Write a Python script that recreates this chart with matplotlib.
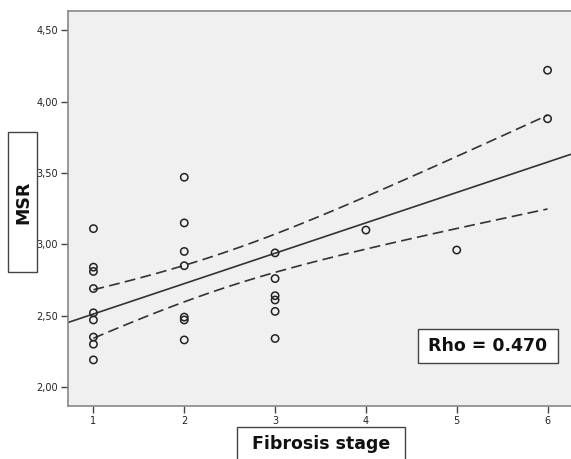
import numpy as np
import matplotlib
matplotlib.use("Agg")
import matplotlib.pyplot as plt
from matplotlib.patches import Rectangle

# Fibrosis stage vs MSR
stage = [1, 1, 1, 1, 1, 1, 1, 1, 1,
         2, 2, 2, 2, 2, 2, 2,
         3, 3, 3, 3, 3, 3,
         4, 5, 6, 6]
msr = [3.11, 2.84, 2.81, 2.69, 2.52, 2.47, 2.35, 2.30, 2.19,
       3.47, 3.15, 2.95, 2.85, 2.49, 2.47, 2.33,
       2.94, 2.76, 2.64, 2.61, 2.53, 2.34,
       3.10, 2.96, 4.22, 3.88]
y_ticks = [2.0, 2.5, 3.0, 3.5, 4.0, 4.5]
x_ticks = [1, 2, 3, 4, 5, 6]
rho_text = "Rho = 0.470"

x = np.array(stage, dtype=float)
y = np.array(msr, dtype=float)

# Ajuste lineal + banda de confianza de la media
n = len(x)
b1, b0 = np.polyfit(x, y, 1)
resid = y - (b0 + b1 * x)
s = np.sqrt(np.sum(resid ** 2) / (n - 2))
t_crit = 1.711  # t(0.95, 24)
sxx = np.sum((x - x.mean()) ** 2)

W, H = 571, 459
fig = plt.figure(figsize=(W / 100, H / 100), dpi=100)
ax = fig.add_axes([68 / W, 53 / H, 505 / W, 395 / H])
ax.set_facecolor("#f0f0f0")
ax.set_xlim(0.72, 6.28)
ax.set_ylim(1.867, 4.635)

xl = np.linspace(0.72, 6.28, 50)
ax.plot(xl, b0 + b1 * xl, color="#333333", lw=1.2, zorder=2)

xb = np.linspace(x.min(), x.max(), 50)
yb = b0 + b1 * xb
half = t_crit * s * np.sqrt(1 / n + (xb - x.mean()) ** 2 / sxx)
for band in (yb + half, yb - half):
    ax.plot(xb, band, color="#333333", lw=1.2, dashes=(6.5, 3.2), zorder=2)

ax.scatter(x, y, s=28, facecolors="none", edgecolors="#222222",
           linewidths=1.1, zorder=3)

ax.set_xticks(x_ticks)
ax.set_xticklabels([str(v) for v in x_ticks])
ax.set_yticks(y_ticks)
ax.set_yticklabels([f"{v:.2f}".replace(".", ",") for v in y_ticks])
ax.tick_params(direction="out", length=5, width=1, color="#444444",
               labelsize=7, labelcolor="#222222", pad=2)
for sp in ax.spines.values():
    sp.set_color("#888888")
    sp.set_linewidth(1.2)


def caja(x0, y0, x1, y1):
    # rectangulo en pixeles (origen arriba a la izquierda)
    fig.add_artist(Rectangle((x0 / W, 1 - y1 / H), (x1 - x0) / W, (y1 - y0) / H,
                             transform=fig.transFigure, fc="white",
                             ec="#444444", lw=1, zorder=5))


caja(418, 329, 558, 363)
fig.text(488 / W, 1 - 346 / H, rho_text, ha="center", va="center",
         fontsize=12.5, fontweight="bold", color="#111111", zorder=6)

caja(237, 427, 405, 470)
fig.text(321 / W, 1 - 444 / H, "Fibrosis stage", ha="center", va="center",
         fontsize=12.5, fontweight="bold", color="#111111", zorder=6)

caja(8, 132, 37, 272)
fig.text(23 / W, 1 - 202 / H, "MSR", rotation=90, ha="center", va="center",
         fontsize=12.5, fontweight="bold", color="#111111", zorder=6)

fig.savefig("out.png", dpi=100)
